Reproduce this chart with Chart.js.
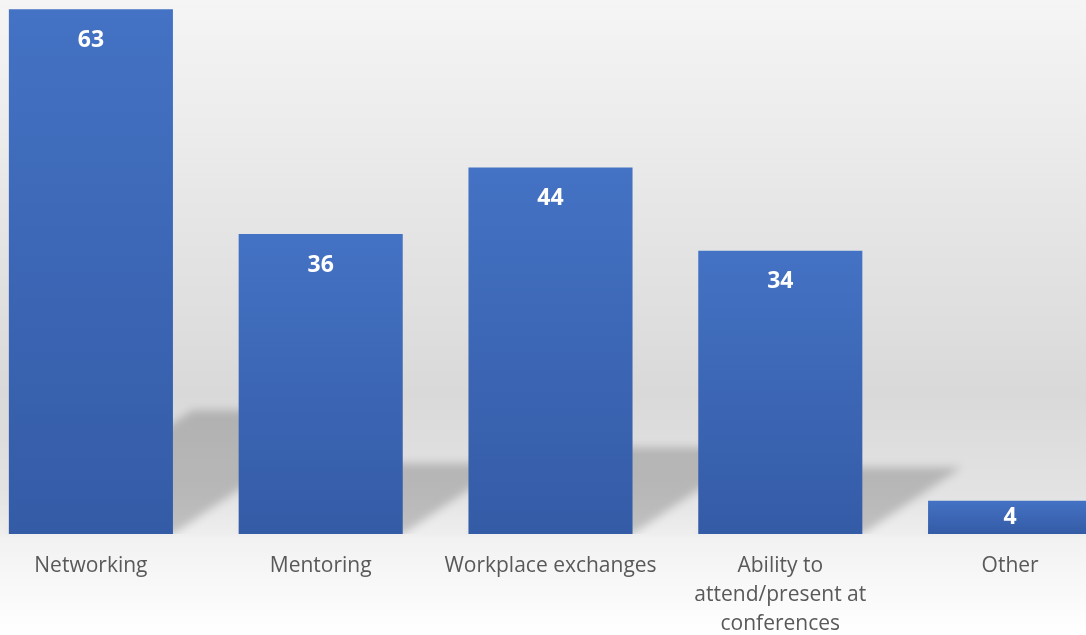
<!DOCTYPE html>
<html>
<head>
<meta charset="utf-8">
<script src="https://cdn.jsdelivr.net/npm/chart.js@4/dist/chart.umd.min.js"></script>
<style>
  html, body { margin: 0; padding: 0; width: 1086px; height: 635px; overflow: hidden; }
  body {
    background: linear-gradient(to bottom, #f5f5f5 0%, #d9d9d9 62%, #e3e3e3 78%, #eeeeee 84%, #f2f2f2 85%, #ffffff 100%);
  }
  #wrap { position: absolute; left: -24px; top: 0; width: 1149px; height: 635px; }
</style>
</head>
<body>
<div id="wrap"><canvas id="myChart"></canvas></div>
<script>
// DATA
const categories = [
  "Networking",
  "Mentoring",
  "Workplace exchanges",
  ["Ability to", "attend/present at", "conferences"],
  "Other"
];
const counts = [63, 36, 44, 34, 4];

const yMin = 0;
const yMax = 64.1;

// floor shadows behind the bars
const shadowPlugin = {
  id: "floorShadow",
  beforeDatasetsDraw(chart) {
    const ctx = chart.ctx;
    const area = chart.chartArea;
    const meta = chart.getDatasetMeta(0);
    ctx.save();
    ctx.beginPath();
    ctx.rect(area.left, area.top, area.right - area.left, area.bottom - area.top);
    ctx.clip();
    ctx.filter = "blur(4px)";
    ctx.fillStyle = "rgba(0,0,0,0.19)";
    meta.data.forEach((bar) => {
      const h = bar.base - bar.y;
      const xl = bar.x - bar.width / 2;
      const xr = bar.x + bar.width / 2;
      const dx = h * 0.35;
      const dy = h * 0.236;
      ctx.beginPath();
      ctx.moveTo(xl, bar.base);
      ctx.lineTo(xr, bar.base);
      ctx.lineTo(xr + dx, bar.base - dy);
      ctx.lineTo(xl + dx, bar.base - dy);
      ctx.closePath();
      ctx.fill();
    });
    ctx.restore();
  }
};

// value labels inside the top of each bar
const valueLabels = {
  id: "valueLabels",
  afterDatasetsDraw(chart) {
    const ctx = chart.ctx;
    const meta = chart.getDatasetMeta(0);
    ctx.save();
    ctx.fillStyle = "#ffffff";
    ctx.font = "bold 23px 'Open Sans', sans-serif";
    ctx.textAlign = "center";
    ctx.textBaseline = "middle";
    meta.data.forEach((bar, i) => {
      // short bars get the label centred
      const ly = Math.min(bar.y + 31, (bar.y + bar.base) / 2);
      ctx.fillText(String(counts[i]), bar.x, ly);
    });
    ctx.restore();
  }
};

function barFill(context) {
  const chart = context.chart;
  if (!chart.chartArea) return "#4472c4";
  const y = chart.scales.y;
  const top = y.getPixelForValue(context.raw);
  const bottom = y.getPixelForValue(0);
  const g = chart.ctx.createLinearGradient(0, top, 0, bottom);
  g.addColorStop(0, "#4472c4");
  g.addColorStop(1, "#345ba6");
  return g;
}

new Chart(document.getElementById("myChart"), {
  type: "bar",
  data: {
    labels: categories,
    datasets: [{
      data: counts,
      backgroundColor: barFill,
      borderWidth: 0,
      barPercentage: 0.714,
      categoryPercentage: 1.0
    }]
  },
  options: {
    responsive: true,
    maintainAspectRatio: false,
    animation: false,
    layout: { padding: 0 },
    plugins: {
      legend: { display: false },
      tooltip: { enabled: false }
    },
    scales: {
      x: {
        grid: { display: false },
        border: { display: false },
        ticks: {
          color: "#595959",
          font: { family: "'Open Sans', sans-serif", size: 21, lineHeight: 1.39 },
          padding: 9,
          maxRotation: 0,
          autoSkip: false
        },
        afterFit(scale) { scale.height = 101; }
      },
      y: {
        display: false,
        min: yMin,
        max: yMax
      }
    }
  },
  plugins: [shadowPlugin, valueLabels]
});
</script>
</body>
</html>
